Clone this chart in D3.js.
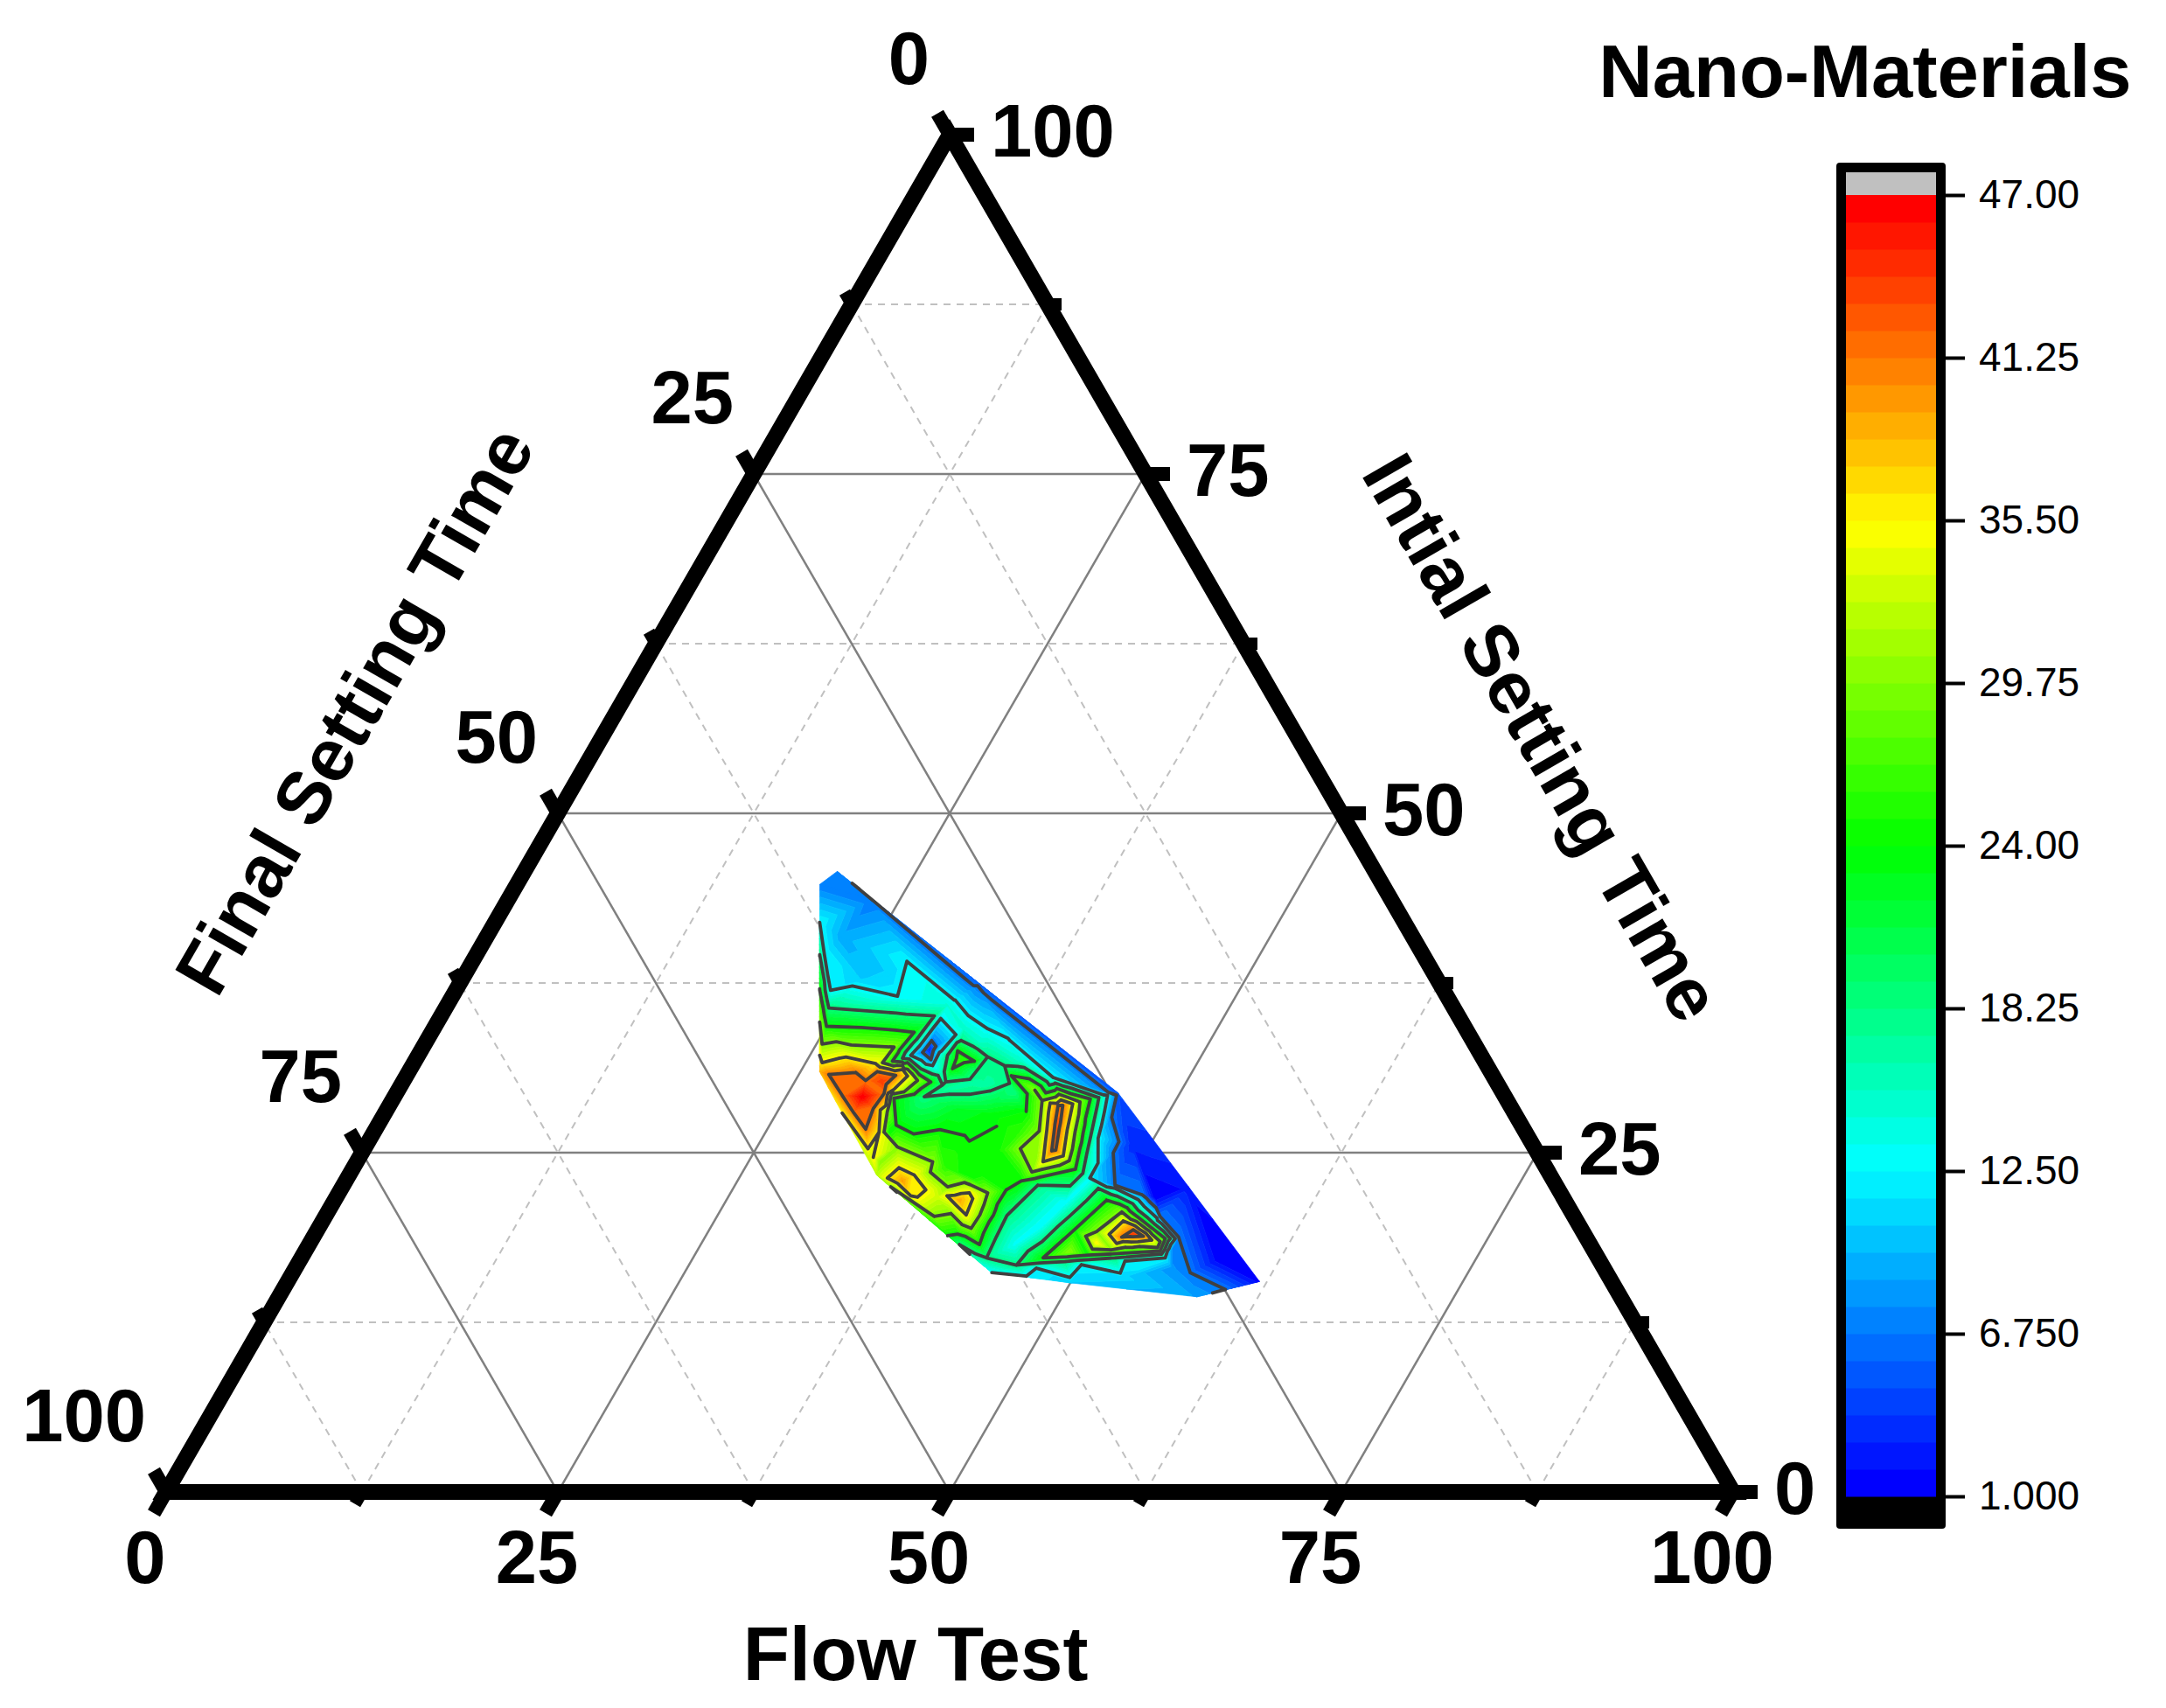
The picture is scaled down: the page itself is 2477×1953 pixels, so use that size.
<!DOCTYPE html>
<html><head><meta charset="utf-8">
<script src="https://cdn.jsdelivr.net/npm/d3@7/dist/d3.min.js"></script>
<style>html,body{margin:0;background:#fff}svg{display:block}text{font-family:"Liberation Sans",Arial,sans-serif}</style>
</head><body><svg id="c" width="2477" height="1953"></svg>
<script>
// Ternary axes: Final Setting Time = 100 - Flow Test - Initial Setting Time
const flowTest = [
 19.96,19.33,20.72,21.92,23.23,24.43,25.62,26.22,29.18,32.52,33.67,35.00,41.51,44.61,46.94,50.07,58.59,60.14,62.02,54.01,46.07,33.01,
 23.27,33.14,45.40,46.04,46.54,49.26,51.35,55.22,55.28,57.27,
 48.80,52.25,58.60,55.94,53.06,25.40,27.21,22.60,
 23.92,28.41,27.72,35.36,41.33,45.46,47.38,46.03,47.29,55.13,55.06,51.27,45.03,
 24.46,31.49,31.01,32.56,34.55,33.82,39.42,38.77,36.20,34.65,33.78,34.10,36.40,37.80,44.99,46.76,44.32,43.47,43.73,42.81,
 32.40,32.08,32.22,32.71,32.88,31.99,33.55,33.15,33.21,31.43,36.47,34.01,
 34.70,34.59,34.26,35.71,
 24.99,30.80,30.48,31.50,33.69,31.94,32.88,33.07,34.52,36.03,37.83,38.33,43.11,46.14,44.50,38.60,40.28,40.87,36.17,38.95,40.69,
 39.63,39.75,40.28,42.48,42.79,41.01,40.43,
 25.36,30.06,29.90,31.49,32.79,31.63,32.01,33.40,33.96,36.75,36.98,38.63,39.54,41.41,41.66,39.82,38.87,
 32.80,32.24,31.69,31.62,31.99,31.43,29.50,26.05,
 26.91,28.55,29.48,29.90,31.21,31.14,31.00,31.28,29.87,
 34.46,34.82,36.07,37.35,37.09,36.61,35.53,38.92,40.24,40.67,40.85,39.87,38.37,
 40.64,41.48,42.42,41.86,43.20,43.45,45.43,43.95,42.51,43.56,44.87,43.79,42.68,42.98,44.18,43.95,43.44,
 45.90,48.30,51.67,54.74,54.77,47.34,49.26,51.92,54.42,54.55,48.83,50.67,54.21,54.27,50.20,51.09,53.62,51.59,52.06,52.94,52.22,
 22.22,23.20,23.20,24.10,31.93,33.87,35.38,38.70,28.52,29.93,30.60,41.22,
 50.04,52.68,48.87,51.93,50.12,52.59,51.41,51.86,47.13,48.31,49.78,46.69,43.58,
 47.95,46.44,45.87,49.37,53.28,53.13,53.25,53.18,36.61,37.43,35.04,38.52,37.71
];
const initialSetting = [
 45.72,44.76,41.97,39.58,36.96,34.57,32.17,30.97,27.92,24.66,23.35,22.48,18.23,16.16,15.90,15.40,14.38,14.92,15.51,22.48,29.38,37.55,
 43.61,37.29,29.45,29.23,27.60,22.59,21.89,18.78,18.01,16.16,
 25.64,21.72,17.14,16.49,15.83,37.84,38.05,40.89,
 36.96,36.53,39.10,34.13,30.54,29.23,23.13,19.65,16.49,17.25,18.67,21.54,18.23,
 35.66,35.07,31.95,31.19,29.99,29.12,29.45,30.10,30.97,30.21,32.17,33.26,32.06,31.41,29.06,23.48,22.61,20.37,17.25,17.58,
 32.61,32.39,33.26,32.83,31.85,34.89,33.70,32.39,31.41,32.17,30.21,30.87,
 31.85,31.19,32.50,31.74,
 34.31,33.87,31.74,31.63,30.21,29.01,26.51,27.03,26.38,26.70,26.27,25.85,22.91,23.78,28.95,30.67,29.34,28.03,28.25,27.81,25.20,
 24.87,23.24,23.46,22.26,18.23,19.00,18.88,
 33.00,32.78,31.63,31.19,30.32,29.45,28.03,24.33,25.42,24.33,23.57,22.48,22.80,22.04,19.43,20.52,20.30,
 24.66,26.51,28.47,29.67,30.65,31.13,31.56,31.63,
 30.76,30.91,30.32,30.97,30.69,29.34,28.25,26.73,29.12,
 23.13,23.89,23.35,22.26,21.72,21.82,22.91,21.82,22.04,21.61,20.41,21.50,21.71,
 29.60,28.84,26.59,25.30,24.65,23.58,24.40,28.74,28.63,28.59,24.76,24.33,28.48,28.48,25.19,25.13,26.80,
 16.71,22.37,20.74,18.67,17.53,17.25,21.50,20.23,18.67,17.75,17.69,20.63,18.45,18.01,18.34,19.97,18.56,18.78,19.32,18.84,19.00,
 39.58,38.05,37.62,35.66,35.87,34.13,33.04,31.74,29.23,27.92,30.21,26.29,
 16.75,17.01,16.97,17.25,17.45,17.62,17.84,18.45,19.58,19.36,19.19,21.32,18.78,
 24.98,26.07,26.29,22.37,20.30,20.19,19.71,19.45,29.30,30.00,29.67,28.69,23.89
];
const nanoMaterials = [
 6.9,6.8,12.5,18.25,24,29.75,35.5,38.5,35.5,33,32,29.75,18.25,12.5,12.5,10.5,8.5,6.75,1.5,2.2,5,5.5,
 6.75,6.75,6.75,6.75,6.75,6.75,6.75,6.75,6.75,6.75,
 3.2,1,1.2,8,11,10.5,10.8,9,
 12.5,12.5,12.5,12.5,12.5,12.5,12.5,12.5,12.5,12.5,12.5,12.5,13,
 18.25,18.25,18.25,18.25,18.25,18.25,18.25,18.25,18.25,18.25,18.25,18.25,18.25,18.25,18.25,18.25,18.25,18.25,18.25,18.25,
 3,6.75,6.75,6.75,6.75,12.5,12.5,12.5,12.5,12.5,16.8,16,
 26,24,24,24,
 24,24,24,24,24,24,24,24,24,24,24,24,24,24,24,24,24,24,22,23.5,25,
 24,24,24,24,24,24,24,
 29.75,29.75,29.75,29.75,29.75,29.75,29.75,29.75,29.75,29.75,29.75,29.75,29.75,29.75,29.75,29.75,29.75,
 35.5,35.5,35.5,35.5,35.5,35.5,35.5,35.5,
 41.25,41.25,41.25,41.25,41.25,41.25,41.25,41.25,47,
 35.5,35.5,35.5,35.5,35.5,35.5,39.5,35.5,35.5,35.5,35.5,39,33,
 29.75,29.75,29.75,29.75,29.75,29.75,29.75,29.75,35.5,35.5,35.5,35.5,41.25,41.25,41.25,41.25,43,
 18.25,18.25,18.25,18.25,18.25,24,24,24,24,24,29.75,29.75,29.75,29.75,35.5,35.5,35.5,41.25,41.25,41.25,44,
 12.5,12.5,18.25,24,14.5,15,15.5,15,41.25,41.25,44,26,
 12.5,12.5,18.25,18.25,24,24,29.75,35.5,18.25,24,29.75,12.5,18.25,
 6.75,12.5,18.25,12.5,6.75,12.5,18.25,24,18.25,16.8,17,21,26
];
// stretch of the 24.00 contour that the plot leaves undrawn (flow, initial)
const gapFlow = [41.08,41.75,40.10,39.63,38.96,40.34];
const gapInitial = [28.25,25.64,24.66,25.09,27.38,28.47];
const gapLevel = 24;
const axisTicks = d3.range(0,100.1,12.5);
const axisLabels = [0,25,50,75,100];
const legendTicks = [1,6.75,12.5,18.25,24,29.75,35.5,41.25,47];
const legendText = ["1.000","6.750","12.50","18.25","24.00","29.75","35.50","41.25","47.00"];
const contourLevels = [6.75,12.5,18.25,24,29.75,35.5,41.25];
const rainbowStops = ["#0000ff","#00ffff","#00ff00","#ffff00","#ff0000"];
const titleText = "Nano-Materials", flowTitle="Flow Test", initTitle="Intial Setting Time", finalTitle="Final Setting Time";

const svg = d3.select("#c");
const xS = d3.scaleLinear().domain([0,100]).range([190,1982]);
const yS = d3.scaleLinear().domain([0,100]).range([1706,154]);
const P = (a,b)=>[xS(a+b/2), yS(b)];
const NB = 48, zMin=1, zMax=47, dz=(zMax-zMin)/NB;
const tS = d3.scaleLinear().domain(d3.range(5).map(i=>i/4)).range(rainbowStops).interpolate(d3.interpolateRgb);
const bandColor = i=>tS(i/(NB-1));

// grid
const grid = svg.append("g");
const gridLine = d3.line();
axisTicks.slice(1,-1).forEach(t=>{
  const major = t%25===0;
  [[P(t,0),P(t,100-t)],[P(0,t),P(100-t,t)],[P(t,0),P(0,t)]].forEach(seg=>{
    grid.append("path").attr("d",gridLine(seg)).attr("fill","none")
      .attr("stroke",major?"#808080":"#c0c0c0").attr("stroke-width",major?2.5:2)
      .attr("stroke-dasharray",major?null:"8 7");
  });
});

// triangulated surface
const pts = flowTest.map((a,i)=>{const p=P(a,initialSetting[i]);return [p[0],p[1],nanoMaterials[i]];});
const del = d3.Delaunay.from(pts,d=>d[0],d=>d[1]);
const tris=[]; for(let i=0;i<del.triangles.length;i+=3) tris.push([pts[del.triangles[i]],pts[del.triangles[i+1]],pts[del.triangles[i+2]]]);
function clip(poly,lvl,keepAbove){
  const out=[]; 
  for(let i=0;i<poly.length;i++){
    const p=poly[i],q=poly[(i+1)%poly.length];
    const pin=keepAbove?p[2]>=lvl:p[2]<=lvl, qin=keepAbove?q[2]>=lvl:q[2]<=lvl;
    if(pin) out.push(p);
    if(pin!==qin){const t=(lvl-p[2])/(q[2]-p[2]);out.push([p[0]+t*(q[0]-p[0]),p[1]+t*(q[1]-p[1]),lvl]);}
  }
  return out;
}
const bands = d3.range(NB).map(i=>{
  const lo=zMin+i*dz, hi=zMin+(i+1)*dz, pth=d3.path();
  tris.forEach(tr=>{
    const zs=tr.map(p=>p[2]); const mn=d3.min(zs), mx=d3.max(zs);
    if((mx<lo)||(mn>hi)) return;
    let pl=clip(tr,i===0?-1e9:lo,true); if(pl.length>2) pl=clip(pl,i===NB-1?1e9:hi,false);
    if(pl.length<3) return;
    pth.moveTo(pl[0][0],pl[0][1]); pl.slice(1).forEach(p=>pth.lineTo(p[0],p[1])); pth.closePath();
  });
  return {i,d:pth.toString()};
});
svg.append("g").selectAll("path").data(bands).join("path")
  .attr("d",d=>d.d).attr("fill",d=>bandColor(d.i)).attr("stroke",d=>bandColor(d.i)).attr("stroke-width",0.7).attr("stroke-linejoin","round");

// contour lines
const gapPoly = gapFlow.map((a,i)=>P(a,gapInitial[i]));
const isoGroup=svg.append("g").attr("fill","none").attr("stroke","#404040").attr("stroke-width",3.8).attr("stroke-linecap","round").attr("stroke-linejoin","round");
contourLevels.forEach(l=>{
  const pth=d3.path();
  tris.forEach(tr=>{
    const c=[];
    for(let i=0;i<3;i++){
      const p=tr[i],q=tr[(i+1)%3];
      if((p[2]>=l)!==(q[2]>=l)){const t=(l-p[2])/(q[2]-p[2]);c.push([p[0]+t*(q[0]-p[0]),p[1]+t*(q[1]-p[1])]);}
    }
    if(c.length!==2 || Math.hypot(c[0][0]-c[1][0],c[0][1]-c[1][1])<=0.01) return;
    if(l===gapLevel && d3.polygonContains(gapPoly,[(c[0][0]+c[1][0])/2,(c[0][1]+c[1][1])/2])) return;
    pth.moveTo(c[0][0],c[0][1]);pth.lineTo(c[1][0],c[1][1]);
  });
  isoGroup.append("path").attr("d",pth.toString());
});

// frame and ticks
const tickG=svg.append("g").attr("stroke","#000").attr("fill","none");
function tick(p,dir,major){
  const L=major?28:16;
  tickG.append("path").attr("d",gridLine([p,[p[0]+dir[0]*L,p[1]+dir[1]*L]])).attr("stroke-width",major?16:14);
}
axisTicks.forEach(t=>{
  const major=t%25===0;
  tick(P(t,0),[-0.5,0.866],major);
  tick(P(0,100-t),[-0.5,-0.866],major);
  tick(P(100-t,t),[1,0],major);
});
svg.append("path").attr("d",gridLine([P(0,0),P(100,0),P(0,100)])+"Z").attr("fill","none").attr("stroke","#000").attr("stroke-width",18).attr("stroke-linejoin","miter");

// axis labels
const big=svg.append("g").attr("font-weight","bold").attr("font-size",85).attr("fill","#000");
axisLabels.forEach(v=>{
  const b=P(v,0); big.append("text").attr("x",b[0]-24).attr("y",1810).attr("text-anchor","middle").text(v);
  const r=P(100-v,v); big.append("text").attr("x",r[0]+47).attr("y",r[1]+25).text(v);
  const l=P(0,100-v); big.append("text").attr("x",l[0]-23).attr("y",l[1]-58).attr("text-anchor","end").text(v);
});
big.append("text").attr("x",1047).attr("y",1921).attr("text-anchor","middle").attr("font-size",87).text(flowTitle);
big.append("text").attr("transform","translate(405,812) rotate(-60)").attr("dy","0.35em").attr("text-anchor","middle").text(finalTitle);
big.append("text").attr("transform","translate(1764,843) rotate(60)").attr("dy","0.35em").attr("text-anchor","middle").text(initTitle);
big.append("text").attr("x",2133).attr("y",111).attr("text-anchor","middle").text(titleText);

// colour bar
const lgY=d3.scaleLinear().domain([1,47]).range([1711,223]);
const lg=svg.append("g");
lg.append("rect").attr("x",2100).attr("y",186).attr("width",125).attr("height",1562).attr("rx",4).attr("fill","#000");
lg.append("rect").attr("x",2111).attr("y",197).attr("width",103).attr("height",lgY(47)-197).attr("fill","#c0c0c0");
lg.selectAll("rect.b").data(d3.range(NB)).join("rect").attr("class","b")
  .attr("x",2111).attr("width",103).attr("y",i=>lgY(zMin+(i+1)*dz)).attr("height",i=>lgY(zMin+i*dz)-lgY(zMin+(i+1)*dz)+0.5).attr("fill",bandColor);
const ax=d3.axisRight(lgY).tickValues(legendTicks).tickFormat((d,i)=>legendText[i]).tickSize(22).tickPadding(16);
const axg=svg.append("g").attr("transform","translate(2225,0)").call(ax);
axg.select(".domain").remove();
axg.selectAll("line").attr("stroke","#000").attr("stroke-width",4);
axg.selectAll("text").attr("font-size",46).attr("fill","#000").attr("font-family",'"Liberation Sans",Arial,sans-serif');
</script></body></html>
